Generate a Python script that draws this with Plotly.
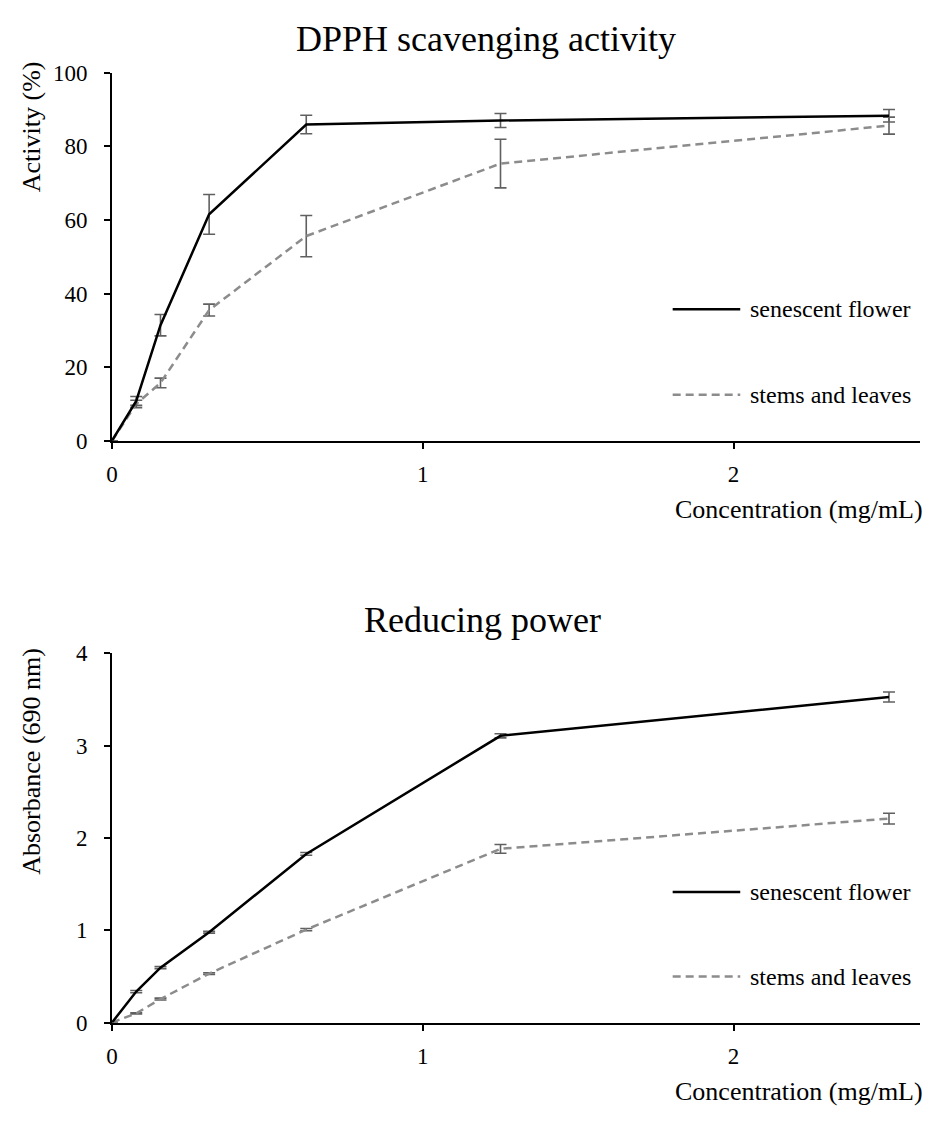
import plotly.graph_objects as go

# ---- data ----
conc = [0, 0.078, 0.156, 0.3125, 0.625, 1.25, 2.5]

dpph_flower = [0, 10.8, 31.4, 61.5, 85.9, 87.0, 88.3]
dpph_flower_err = [0, 1.2, 2.9, 5.4, 2.5, 1.9, 1.7]
dpph_stems = [0, 10.0, 15.7, 35.5, 55.6, 75.3, 85.6]
dpph_stems_err = [0, 1.0, 1.3, 1.6, 5.6, 6.6, 2.3]

rp_flower = [0, 0.335, 0.594, 0.979, 1.827, 3.107, 3.528]
rp_flower_err = [0, 0.012, 0.012, 0.01, 0.015, 0.022, 0.054]
rp_stems = [0, 0.099, 0.254, 0.53, 1.007, 1.882, 2.210]
rp_stems_err = [0, 0.005, 0.01, 0.01, 0.012, 0.047, 0.058]

series_names = ["senescent flower", "stems and leaves"]
x_ticks = [0, 1, 2]
dpph_ticks = [0, 20, 40, 60, 80, 100]
rp_ticks = [0, 1, 2, 3, 4]

W, H = 931, 1124
FONT = "Liberation Serif, Times New Roman, serif"

def px(x):
    return x / W

def py(y):
    return 1 - y / H

fig = go.Figure()

ERR_COLOR = "#606060"
styles = [dict(color="black", width=2.5, dash="solid"),
          dict(color="#8c8c8c", width=2.5, dash="8px,5px")]

def add(xs, ys, errs, style, name, xa, ya):
    fig.add_trace(go.Scatter(
        x=xs, y=ys, mode="lines", name=name, showlegend=False,
        line=style,
        error_y=dict(type="data", array=errs, visible=True,
                     color=ERR_COLOR, thickness=1.6, width=6),
        xaxis=xa, yaxis=ya))

add(conc, dpph_stems, dpph_stems_err, styles[1], series_names[1], "x", "y")
add(conc, dpph_flower, dpph_flower_err, styles[0], series_names[0], "x", "y")
add(conc, rp_stems, rp_stems_err, styles[1], series_names[1], "x2", "y2")
add(conc, rp_flower, rp_flower_err, styles[0], series_names[0], "x2", "y2")

xdom = [px(106.7), px(920)]
axis_common = dict(showline=True, linecolor="black", linewidth=2,
                   ticks="outside", ticklen=6, tickwidth=1.5, tickcolor="black",
                   showgrid=False, zeroline=False,
                   tickfont=dict(family=FONT, size=23, color="black"))

fig.update_layout(
    width=W, height=H, margin=dict(l=0, r=0, t=0, b=0),
    paper_bgcolor="white", plot_bgcolor="white",
    font=dict(family=FONT, color="black"),
    xaxis=dict(domain=xdom, range=[0, 2.6], tickvals=x_ticks, anchor="y",
               ticklabelstandoff=6, **axis_common),
    yaxis=dict(domain=[py(438.5), py(62)], range=[0, 100], tickvals=dpph_ticks,
               anchor="x", ticklabelstandoff=12, **axis_common),
    xaxis2=dict(domain=xdom, range=[0, 2.6], tickvals=x_ticks, anchor="y2",
                ticklabelstandoff=6, **axis_common),
    yaxis2=dict(domain=[py(1033.5), py(656)], range=[0, 4], tickvals=rp_ticks,
                anchor="x2", ticklabelstandoff=12, **axis_common),
    showlegend=False,
)

ann = []
shapes = []

def text(x, y, s, size, xanchor="center", angle=0):
    ann.append(dict(x=px(x), y=py(y), xref="paper", yref="paper", text=s,
                    showarrow=False, xanchor=xanchor, yanchor="middle",
                    textangle=angle,
                    font=dict(family=FONT, size=size, color="black")))

# titles
text(483, 28, "DPPH scavenging activity", 36)
text(480, 622, "Reducing power", 36)
# axis titles
text(925, 509, "Concentration (mg/mL)", 26, xanchor="right")
text(925, 1104, "Concentration (mg/mL)", 26, xanchor="right")
text(26, 117, "Activity (%)", 26, angle=-90)
text(26, 766, "Absorbance (690 nm)", 26, angle=-90)

# legends
for (y1, y2) in [(304, 391.5), (900, 986.5)]:
    for yy, st, nm in [(y1, styles[0], series_names[0]), (y2, styles[1], series_names[1])]:
        shapes.append(dict(type="line", xref="paper", yref="paper",
                           x0=px(671), x1=px(739), y0=py(yy), y1=py(yy),
                           line=dict(color=st["color"], width=st["width"],
                                     dash=st["dash"])))
        text(747, yy, nm, 24, xanchor="left")

fig.update_layout(annotations=ann, shapes=shapes)
fig.write_html("out.html")
